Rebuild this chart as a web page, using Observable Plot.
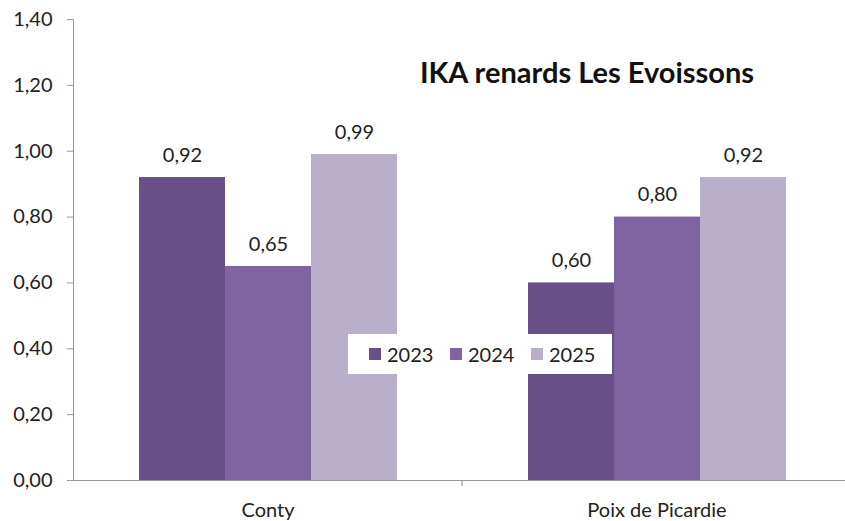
<!DOCTYPE html>
<html>
<head>
<meta charset="utf-8">
<script src="https://cdn.jsdelivr.net/npm/d3@7"></script>
<script src="https://cdn.jsdelivr.net/npm/@observablehq/plot@0.6"></script>
<style>
  html, body { margin: 0; padding: 0; background: #fff; }
  #wrap { position: relative; width: 845px; height: 521px; font-family: Lato, sans-serif; }
  #legend { position: absolute; left: 348px; top: 334px; width: 264px; height: 40px; background: #fff;
            display: flex; align-items: center; padding-left: 21px; box-sizing: border-box; }
  .item { display: flex; align-items: center; width: 86px; font-size: 20px; color: #222; }
  .sw { width: 12px; height: 12px; margin-right: 6px; }
</style>
</head>
<body>
<div id="wrap"></div>
<script>
const title = "IKA renards Les Evoissons";
const categories = ["Conty", "Poix de Picardie"];
const years = ["2023", "2024", "2025"];
const values2023 = [0.92, 0.60];
const values2024 = [0.65, 0.80];
const values2025 = [0.99, 0.92];
const colors = ["#684F87", "#8064A2", "#B9AFCB"];
const yTicks = [0, 0.2, 0.4, 0.6, 0.8, 1.0, 1.2, 1.4];

const series = [values2023, values2024, values2025];
const data = categories.flatMap((c, i) => years.map((y, j) => ({category: c, year: y, value: series[j][i]})));
const fmt = d => d.toFixed(2).replace(".", ",");

const plot = Plot.plot({
  width: 845, height: 521,
  marginLeft: 73, marginRight: -6, marginTop: 19, marginBottom: 41,
  style: {fontFamily: "Lato, sans-serif", fontSize: "20px", color: "#222", background: "white"},
  fx: {domain: categories, padding: 0, axis: null, label: null},
  x: {domain: years, paddingInner: 0, paddingOuter: 0.754, axis: null, label: null},
  y: {domain: [0, 1.4], axis: null, label: null},
  color: {domain: years, range: colors},
  marks: [
    Plot.barY(data, {fx: "category", x: "year", y: "value", fill: "year"}),
    Plot.text(data, {fx: "category", x: "year", y: "value", text: d => fmt(d.value), dy: -22, fill: "#222", fontSize: 20}),
    Plot.ruleY([0], {stroke: "#999"}),
    Plot.frame({anchor: "left", facetAnchor: "left", stroke: "#999"}),
    Plot.axisY({ticks: yTicks, tickFormat: fmt, tickSize: 6, tickPadding: 15, stroke: "#999", fill: "#222", fontSize: 20, label: null}),
    Plot.axisFx({anchor: "bottom", tickSize: 0, tickPadding: 22, fill: "#222", fontSize: 20, label: null}),
    Plot.text([{category: categories[1], label: title}], {fx: "category", text: "label", frameAnchor: "top", lineAnchor: "middle", dy: 54, dx: -70, fontSize: 29, fontWeight: "bold", fill: "#111"})
  ]
});

// category boundary ticks on the baseline
const fxs = plot.scale("fx");
const ys = plot.scale("y");
const y0 = ys.apply(0);
d3.select(plot).selectAll("line.sep").data(categories.slice(1)).join("line")
  .attr("class", "sep")
  .attr("x1", c => fxs.apply(c)).attr("x2", c => fxs.apply(c))
  .attr("y1", y0).attr("y2", y0 + 6)
  .attr("stroke", "#888");

const wrap = document.getElementById("wrap");
wrap.appendChild(plot);

const legend = document.createElement("div");
legend.id = "legend";
years.forEach((y, i) => {
  const it = document.createElement("div");
  it.className = "item";
  const sw = document.createElement("div");
  sw.className = "sw";
  sw.style.background = colors[i];
  const t = document.createElement("span");
  t.textContent = y;
  it.appendChild(sw); it.appendChild(t);
  legend.appendChild(it);
});
wrap.appendChild(legend);
</script>
</body>
</html>
